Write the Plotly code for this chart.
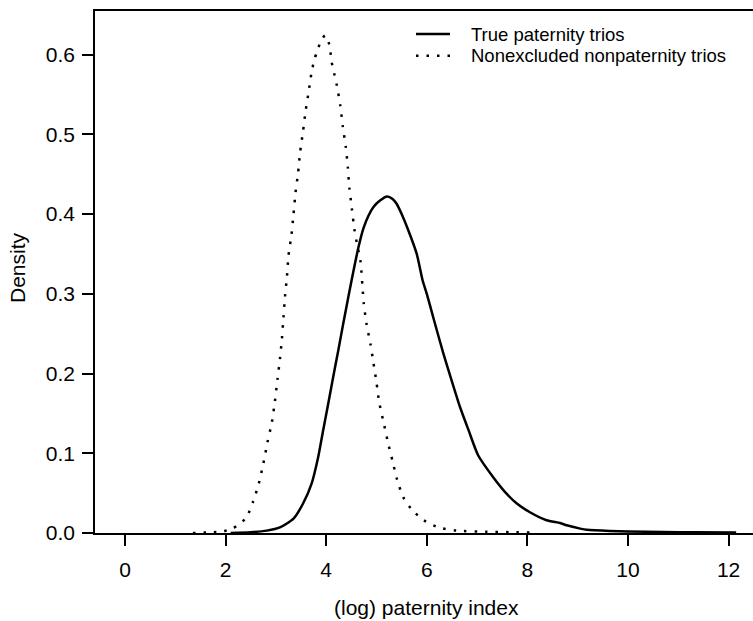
import plotly.graph_objects as go

# Kernel density of log paternity index, true paternity trios
true_x = [2.10, 2.50, 2.82, 3.08, 3.35, 3.54, 3.71, 3.84, 3.94, 4.04, 4.14, 4.24,
          4.34, 4.44, 4.54, 4.64, 4.74, 4.84, 4.94, 5.07, 5.21, 5.32, 5.40, 5.50,
          5.63, 5.80, 5.92, 6.00, 6.13, 6.33, 6.49, 6.66, 6.83, 7.02, 7.32, 7.59,
          7.79, 8.05, 8.38, 8.65, 8.78, 9.05, 9.18, 9.64, 10.0, 10.7, 11.3, 12.15]
true_y = [0.000, 0.001, 0.003, 0.007, 0.018, 0.037, 0.062, 0.095, 0.129, 0.162, 0.196, 0.229,
          0.263, 0.296, 0.328, 0.358, 0.382, 0.398, 0.409, 0.417, 0.422, 0.419, 0.413, 0.400,
          0.380, 0.350, 0.316, 0.300, 0.270, 0.225, 0.192, 0.158, 0.129, 0.0975, 0.070, 0.049,
          0.037, 0.026, 0.016, 0.0125, 0.0097, 0.0055, 0.004, 0.0025, 0.002, 0.0013, 0.0008, 0.0005]

# Kernel density, nonexcluded nonpaternity trios
non_x = [1.35, 1.76, 1.95, 2.14, 2.41, 2.55, 2.66, 2.75, 2.83, 2.92, 2.98, 3.03,
         3.08, 3.12, 3.15, 3.18, 3.22, 3.25, 3.31, 3.35, 3.39, 3.44, 3.48, 3.54,
         3.59, 3.65, 3.71, 3.77, 3.82, 3.90, 3.98, 4.06, 4.11, 4.16, 4.21, 4.28,
         4.33, 4.39, 4.43, 4.46, 4.51, 4.56, 4.62, 4.68, 4.745, 4.80, 4.88, 4.94,
         5.00, 5.05, 5.14, 5.23, 5.32, 5.41, 5.53, 5.72, 5.94, 6.23, 6.59, 7.19,
         7.70, 8.20]
non_y = [0.000, 0.001, 0.002, 0.0055, 0.019, 0.040, 0.062, 0.087, 0.113, 0.139, 0.165, 0.192,
         0.218, 0.244, 0.270, 0.296, 0.322, 0.348, 0.374, 0.400, 0.427, 0.451, 0.477, 0.504,
         0.529, 0.553, 0.578, 0.595, 0.604, 0.618, 0.624, 0.613, 0.590, 0.576, 0.562, 0.536,
         0.510, 0.484, 0.459, 0.433, 0.407, 0.381, 0.360, 0.342, 0.289, 0.263, 0.237, 0.213,
         0.189, 0.165, 0.139, 0.113, 0.090, 0.067, 0.045, 0.028, 0.016, 0.007, 0.003, 0.0015,
         0.001, 0.0005]

x_ticks = [0, 2, 4, 6, 8, 10, 12]
y_ticks = [0.0, 0.1, 0.2, 0.3, 0.4, 0.5, 0.6]
legend_labels = ["True paternity trios", "Nonexcluded nonpaternity trios"]
x_title = "(log) paternity index"
y_title = "Density"

FONT = "Liberation Sans, Arial, Helvetica, sans-serif"
W, H = 753, 621
ML, MR, MT, MB = 95, 0, 11, 88
PW, PH = W - ML - MR, H - MT - MB
DOT = "2.5px,8px"

fig = go.Figure()
fig.add_trace(go.Scatter(x=true_x, y=true_y, mode="lines", name=legend_labels[0],
                         line=dict(color="black", width=2.5, shape="spline", smoothing=0.6)))
fig.add_trace(go.Scatter(x=non_x, y=non_y, mode="lines", name=legend_labels[1],
                         line=dict(color="black", width=2.5, dash=DOT,
                                   shape="spline", smoothing=0.6)))


def px_x(p):
    return (p - ML) / PW


def px_y(p):
    return (H - MB - p) / PH


# hand-placed key in the upper right
for i, (lab, dash) in enumerate(zip(legend_labels, ["solid", DOT])):
    yy = 34 + 21.7 * i
    fig.add_shape(type="line", xref="paper", yref="paper",
                  x0=px_x(416), x1=px_x(450), y0=px_y(yy), y1=px_y(yy),
                  line=dict(color="black", width=2.5, dash=dash))
    fig.add_annotation(xref="paper", yref="paper", x=px_x(469), y=px_y(yy),
                       text=lab, showarrow=False, xanchor="left", yanchor="middle",
                       font=dict(family=FONT, size=18.5, color="black"))

# axis titles
fig.add_annotation(xref="paper", yref="paper", x=px_x(426), y=px_y(607),
                   text=x_title, showarrow=False, xanchor="center", yanchor="middle",
                   font=dict(family=FONT, size=21, color="black"))
fig.add_annotation(xref="paper", yref="paper", x=px_x(17), y=px_y(268),
                   text=y_title, showarrow=False, xanchor="center", yanchor="middle",
                   textangle=-90, font=dict(family=FONT, size=21, color="black"))

x_lo = (ML - 125) / 50.3
x_hi = (W - MR - 125) / 50.3
y_hi = (H - MB - MT) / 797.3

fig.update_layout(
    width=W, height=H,
    margin=dict(l=ML, r=MR, t=MT, b=MB, pad=0),
    paper_bgcolor="white", plot_bgcolor="white",
    showlegend=False,
    font=dict(family=FONT, size=21, color="black"),
    xaxis=dict(range=[x_lo, x_hi], tickvals=x_ticks, ticktext=[str(v) for v in x_ticks],
               showgrid=False, zeroline=False, showline=True, mirror=True,
               linecolor="black", linewidth=1.5,
               ticks="outside", ticklen=11, tickwidth=1.5, tickcolor="black",
               tickfont=dict(size=21), ticklabelstandoff=6),
    yaxis=dict(range=[0, y_hi], tickvals=y_ticks, tickformat=".1f",
               showgrid=False, zeroline=False, showline=True,
               linecolor="black", linewidth=1.5,
               ticks="outside", ticklen=11, tickwidth=1.5, tickcolor="black",
               tickfont=dict(size=21), ticklabelstandoff=3),
)

fig.write_html("out.html")
